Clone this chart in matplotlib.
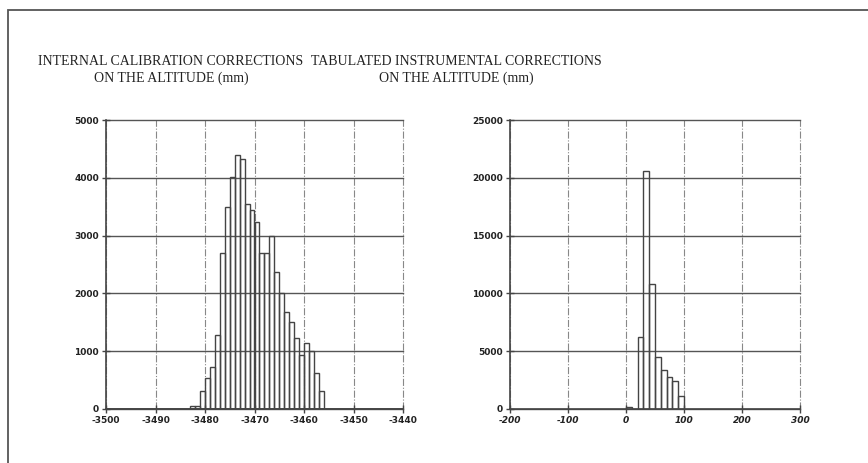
import numpy as np
import matplotlib
matplotlib.use('Agg')
import matplotlib.pyplot as plt
from matplotlib.patches import Rectangle

plt.rcParams['axes.unicode_minus'] = False

# internal calibration corrections, 1 mm bins (left edge of each bin)
calib_bins = list(range(-3483, -3456))
calib_counts = [60, 60, 320, 540, 720, 1280, 2700, 3500, 4020, 4400,
                4330, 3540, 3440, 3230, 2700, 2700, 2990, 2375, 2010, 1680,
                1500, 1230, 940, 1150, 1000, 630, 320]

# tabulated instrumental corrections, 10 mm bins
instr_bins = [0, 10, 20, 30, 40, 50, 60, 70, 80, 90]
instr_counts = [200, 0, 6200, 20600, 10800, 4500, 3400, 2800, 2400, 1150]

calib_xticks = [-3500, -3490, -3480, -3470, -3460, -3450, -3440]
calib_yticks = [0, 1000, 2000, 3000, 4000, 5000]
instr_xticks = [-200, -100, 0, 100, 200, 300]
instr_yticks = [0, 5000, 10000, 15000, 20000, 25000]

titles = ["INTERNAL CALIBRATION CORRECTIONS\nON THE ALTITUDE (mm)",
          "TABULATED INSTRUMENTAL CORRECTIONS\nON THE ALTITUDE (mm)"]

W, H = 868, 463
fig = plt.figure(figsize=(W / 100, H / 100), dpi=100)
fig.patch.set_facecolor('white')


def setup(ax, xticks, yticks):
    ax.set_xlim(xticks[0], xticks[-1])
    ax.set_ylim(yticks[0], yticks[-1])
    ax.set_xticks(xticks)
    ax.set_yticks(yticks)
    for s in ['top', 'right']:
        ax.spines[s].set_visible(False)
    for s in ['left', 'bottom']:
        ax.spines[s].set_color('#444444')
        ax.spines[s].set_linewidth(1.2)
    ax.tick_params(direction='inout', length=6, width=1, colors='#444444',
                   labelsize=6.5, pad=2)
    for lab in ax.get_xticklabels() + ax.get_yticklabels():
        lab.set_fontweight('bold')
        lab.set_color('#222222')
    ax.yaxis.grid(True, color='#555555', linestyle='-', linewidth=1.0)
    ax.xaxis.grid(True, color='#888888', linestyle='-.', linewidth=0.8)
    ax.set_axisbelow(True)
    # keep the grid lines at the axis edges fully visible
    for gl in ax.get_xgridlines() + ax.get_ygridlines():
        gl.set_clip_on(False)


ax1 = fig.add_axes([106 / W, 1 - 409 / H, 297 / W, 289 / H])
setup(ax1, calib_xticks, calib_yticks)
ax1.bar(calib_bins, calib_counts, width=1, align='edge', facecolor='none',
        edgecolor='#444444', linewidth=1.0, zorder=3)
ax1.plot([calib_xticks[0], calib_xticks[-1]], [0, 0], color='#444444', lw=1.2, zorder=4)

ax2 = fig.add_axes([510 / W, 1 - 409 / H, 290 / W, 289 / H])
setup(ax2, instr_xticks, instr_yticks)
ax2.bar(instr_bins, instr_counts, width=10, align='edge', facecolor='none',
        edgecolor='#444444', linewidth=1.0, zorder=3)
for lab in ax2.get_xticklabels():
    lab.set_fontstyle('italic')

# titles above each panel
fig.text(171 / W, 1 - 70 / H, titles[0], ha='center', va='center',
         family='Liberation Serif', fontsize=10, color='#222222', linespacing=1.25)
fig.text(456 / W, 1 - 70 / H, titles[1], ha='center', va='center',
         family='Liberation Serif', fontsize=10, color='#222222', linespacing=1.25)

# page frame (open at the bottom and right)
fig.patches.append(Rectangle((8 / W, -0.1), 1.0, 1.1 - 10 / H, transform=fig.transFigure,
                             fill=False, edgecolor='#555555', linewidth=1.3))

fig.savefig('out.png', dpi=100, facecolor='white')
